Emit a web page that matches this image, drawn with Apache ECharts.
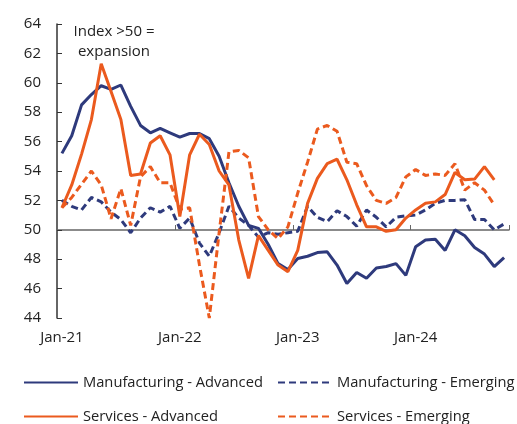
<!DOCTYPE html>
<html>
<head>
<meta charset="utf-8">
<script src="https://cdn.jsdelivr.net/npm/echarts@6/dist/echarts.min.js"></script>
<style>
  html, body { margin: 0; padding: 0; background: #fff; }
  #chart { width: 517px; height: 424px; }
</style>
</head>
<body>
<div id="chart"></div>
<script>
  // 月份 Jan-21 .. Oct-24
  const months = [
    'Jan-21','Feb-21','Mar-21','Apr-21','May-21','Jun-21','Jul-21','Aug-21','Sep-21','Oct-21','Nov-21','Dec-21',
    'Jan-22','Feb-22','Mar-22','Apr-22','May-22','Jun-22','Jul-22','Aug-22','Sep-22','Oct-22','Nov-22','Dec-22',
    'Jan-23','Feb-23','Mar-23','Apr-23','May-23','Jun-23','Jul-23','Aug-23','Sep-23','Oct-23','Nov-23','Dec-23',
    'Jan-24','Feb-24','Mar-24','Apr-24','May-24','Jun-24','Jul-24','Aug-24','Sep-24','Oct-24'
  ]

  // PMI 数值
  const mfgAdvanced = [
    55.2, 56.4, 58.5, 59.2, 59.8, 59.55, 59.85, 58.4, 57.1, 56.6, 56.9, 56.6,
    56.3, 56.55, 56.55, 56.2, 55.0, 53.2, 51.6, 50.3, 50.1, 49.0, 47.7, 47.3,
    48.05, 48.2, 48.45, 48.5, 47.6, 46.35, 47.1, 46.7, 47.4, 47.5, 47.7, 46.9,
    48.85, 49.3, 49.35, 48.6, 50.0, 49.6, 48.8, 48.35, 47.5, 48.1
  ]
  const mfgEmerging = [
    52.0, 51.6, 51.35, 52.2, 51.9, 51.2, 50.7, 49.8, 50.8, 51.5, 51.2, 51.6,
    50.1, 50.8, 49.1, 48.2, 49.8, 51.6, 50.8, 50.3, 49.5, 49.8, 49.7, 49.8,
    49.9, 51.6, 50.85, 50.55, 51.3, 50.9, 50.25, 51.35, 50.85, 50.2, 50.85, 50.95,
    51.0, 51.35, 51.8, 52.0, 52.0, 52.05, 50.7, 50.7, 50.0, 50.4
  ]
  const srvAdvanced = [
    51.5, 53.05, 55.15, 57.5, 61.3, 59.4, 57.5, 53.7, 53.8, 55.9, 56.4, 55.1,
    50.9, 55.1, 56.5, 55.8, 54.0, 53.05, 49.3, 46.7, 49.6, 48.6, 47.6, 47.15,
    48.6, 51.8, 53.5, 54.5, 54.8, 53.4, 51.7, 50.2, 50.2, 49.9, 50.0, 50.8,
    51.35, 51.8, 51.9, 52.4, 53.9, 53.4, 53.45, 54.3, 53.4
  ]
  const srvEmerging = [
    51.5, 52.2, 53.1, 54.0, 53.05, 50.75, 52.8, 50.3, 53.6, 54.3, 53.2, 53.2,
    51.4, 51.5, 47.6, 44.0, 49.8, 55.3, 55.4, 54.9, 50.9, 50.0, 49.4, 50.2,
    52.5, 54.6, 56.85, 57.1, 56.7, 54.6, 54.5, 53.0, 52.0, 51.8, 52.2, 53.6,
    54.1, 53.7, 53.8, 53.7, 54.5, 52.7, 53.2, 52.7, 51.7
  ]

  const navy = '#2e3a7c'
  const orange = '#eb5a1e'
  const font = 'Open Sans'

  const myChart = echarts.init(document.getElementById('chart'), null, {renderer: 'canvas'})

  const lineSeries = (name, data, color, dashed) => ({
    name: name,
    type: 'line',
    data: data,
    symbol: 'none',
    showSymbol: false,
    animation: false,
    lineStyle: {color: color, width: 3, type: dashed ? [7, 4] : 'solid'},
    itemStyle: {color: color}
  })

  // 图例: 每项单独一个legend, 只画线不画圆点
  const legendItem = (name, left, top) => ({
    left: left,
    top: top,
    data: [name],
    itemWidth: 54,
    itemHeight: 14,
    padding: 0,
    itemStyle: {opacity: 0},
    textStyle: {fontFamily: font, fontSize: 14.7, color: '#222'},
    selectedMode: false
  })

  const option = {
    animation: false,
    grid: {left: 57, right: 8, top: 24, bottom: 106},
    xAxis: {
      type: 'category',
      data: months,
      boundaryGap: true,
      offset: -88,
      axisLine: {show: true, lineStyle: {color: '#666', width: 1.5}},
      axisTick: {show: true, inside: true, length: 5, interval: 11, lineStyle: {color: '#666'}},
      axisLabel: {
        interval: 11, margin: 100,
        fontFamily: font, fontSize: 15, color: '#222'
      },
      splitLine: {show: false}
    },
    yAxis: {
      type: 'value',
      min: 44, max: 64, interval: 2,
      axisLine: {show: true, lineStyle: {color: '#333', width: 1.5}},
      axisTick: {show: true, inside: true, length: 5, lineStyle: {color: '#333'}},
      axisLabel: {fontFamily: font, fontSize: 15, color: '#222', margin: 16},
      splitLine: {show: false}
    },
    legend: [
      legendItem('Manufacturing - Advanced', 23, 375),
      legendItem('Manufacturing - Emerging', 277, 375),
      legendItem('Services - Advanced', 23, 409),
      legendItem('Services - Emerging', 277, 409)
    ],
    graphic: [{
      type: 'text',
      x: 114,
      y: 22,
      style: {
        text: 'Index >50 =\nexpansion',
        align: 'center',
        fontFamily: font,
        fontSize: 15,
        lineHeight: 20,
        fill: '#222'
      }
    }],
    series: [
      lineSeries('Manufacturing - Advanced', mfgAdvanced, navy, false),
      lineSeries('Manufacturing - Emerging', mfgEmerging, navy, true),
      lineSeries('Services - Advanced', srvAdvanced, orange, false),
      lineSeries('Services - Emerging', srvEmerging, orange, true)
    ]
  }
  myChart.setOption(option)
</script>
</body>
</html>
